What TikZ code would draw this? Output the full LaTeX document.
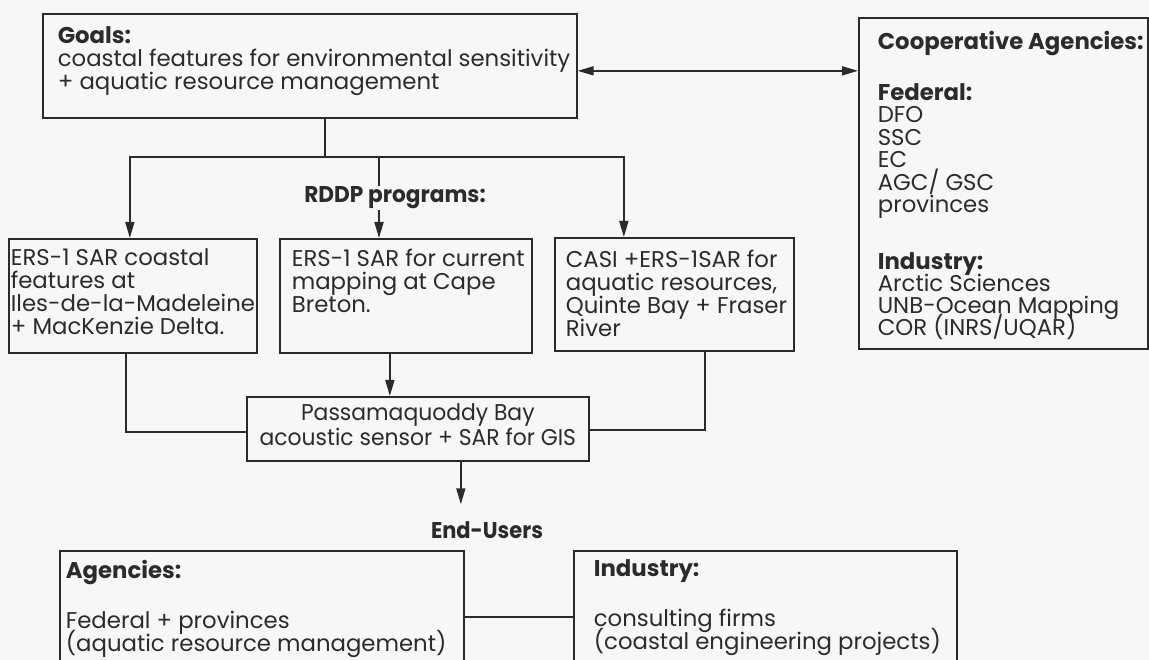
\documentclass[tikz,border=0pt]{standalone}
\usepackage{fontspec}
\setmainfont{Poppins}
\newfontfamily\cond{Poppins}[FakeStretch=0.92]
\newfontfamily\narr{Poppins}[FakeStretch=0.96]
\newfontfamily\rddpf{Poppins}[FakeStretch=0.95]
\usetikzlibrary{arrows.meta}
\definecolor{ink}{HTML}{2B2B2B}
\definecolor{paper}{HTML}{F7F7F7}
% #1 width, #2 height, #3 lines (no line breaking: text set in a wide inner paragraph)
\newcommand\pb[3]{\parbox[t][#2][t]{#1}{\makebox[#1][l]{\parbox[t]{800pt}{\lineskiplimit=-50pt\raggedright\strut #3}}}}
\begin{document}
\begin{tikzpicture}[x=1pt,y=-1pt,
  box/.style={draw=ink, line width=1.7pt, anchor=north west, text=ink,
    font=\fontsize{22.8}{23}\selectfont},
  ln/.style={draw=ink, line width=1.7pt},
  arr/.style={ln, -{Triangle[length=16pt,width=9pt]}},
  dbl/.style={ln, {Triangle[length=16pt,width=9pt]}-{Triangle[length=16pt,width=9pt]}},
  lbl/.style={text=ink, inner sep=1pt, font=\fontsize{22.8}{23}\selectfont\bfseries}]
\useasboundingbox (0,0) rectangle (1149,660);
\clip (0,0) rectangle (1149,660);
\fill[paper] (0,0) rectangle (1149,660);

\node[box, inner xsep=15pt, inner ysep=13.25pt] (goals) at (42,13)
  {\pb{504pt}{77.5pt}{\textbf{Goals:}\\coastal features for environmental sensitivity\\+ aquatic resource management}};
\node[box, inner xsep=19pt, inner ysep=13.3pt, font=\fontsize{22.8}{22.4}\selectfont] (coop) at (858,17)
  {\pb{251pt}{304.4pt}{\textbf{Cooperative Agencies:}\\[28.6pt]\textbf{Federal:}\\DFO\\SSC\\EC\\AGC/ GSC\\provinces\\[35pt]\textbf{Industry:}\\[-0.6pt]Arctic Sciences\\[-0.6pt]UNB-Ocean Mapping\\[-0.6pt]COR (INRS/UQAR)}};
\node[box, inner xsep=2pt, inner ysep=10pt] (box1) at (8,238)
  {\pb{244pt}{94pt}{ERS-1 SAR coastal\\features at\\Iles-de-la-Madeleine\\+ MacKenzie Delta.}};
\node[box, inner xsep=12pt, inner ysep=10pt] (box2) at (279,238)
  {\pb{228pt}{94pt}{ERS-1 SAR for current\\mapping at Cape\\Breton.}};
\node[box, inner xsep=11pt, inner ysep=12pt] (box3) at (554,237)
  {\pb{217pt}{89pt}{CASI +ERS-1SAR for\\aquatic resources,\\Quinte Bay + Fraser\\River}};
\node[box, inner xsep=3pt, inner ysep=7pt] (passa) at (246,396)
  {\parbox[t][50pt][t]{336pt}{\centering\begin{tabular}[t]{@{}c@{}}\narr Passamaquoddy Bay\\\narr acoustic sensor + SAR for GIS\end{tabular}}};
\node[box, inner xsep=6pt, inner ysep=9pt] (agencies) at (59,550)
  {\pb{392pt}{200pt}{\textbf{Agencies:}\\[27pt]Federal + provinces\\(aquatic resource management)}};
\node[box, inner xsep=20pt, inner ysep=9pt] (industry) at (573,550)
  {\pb{343pt}{200pt}{\textbf{Industry:}\\[27pt]consulting firms\\(coastal engineering projects)}};

% goals <-> cooperative agencies
\coordinate (ga) at ([yshift=-5pt]goals.east);
\draw[dbl] (ga) -- (ga -| coop.west);

% tree to RDDP programs
\coordinate (j) at (325,157);
\coordinate (m) at (379,157);
\draw[ln] (goals.south -| j) -- (j);
\draw[arr] (j) -| ([xshift=-3pt]box1.north);
\draw[arr] (j) -| ([xshift=-50.5pt]box3.north);
\draw[arr] (m) -- (m |- box2.north);
\node[lbl, fill=paper, font=\fontsize{22.8}{23}\selectfont\rddpf\bfseries] (rddp) at (395,198) {RDDP programs:};

% programs to Passamaquoddy
\coordinate (p2) at ([xshift=-28pt]passa.north);
\draw[ln] ([xshift=-7pt]box1.south) |- ([yshift=-3pt]passa.west);
\draw[arr] (box2.south -| p2) -- (p2);
\draw[ln] ([xshift=30.5pt]box3.south) |- ([yshift=-1pt]passa.east);

% end users
\node[lbl, font=\fontsize{22.8}{23}\selectfont\cond\bfseries] (endusers) at (487,530) {End-Users};
\coordinate (pe) at ([xshift=43pt]passa.south);
\draw[arr, shorten >=16pt] (pe) -- (pe |- endusers.north);
\draw[ln] ([yshift=43pt]agencies.east) -- ([yshift=43pt]industry.west);
\end{tikzpicture}
\end{document}
